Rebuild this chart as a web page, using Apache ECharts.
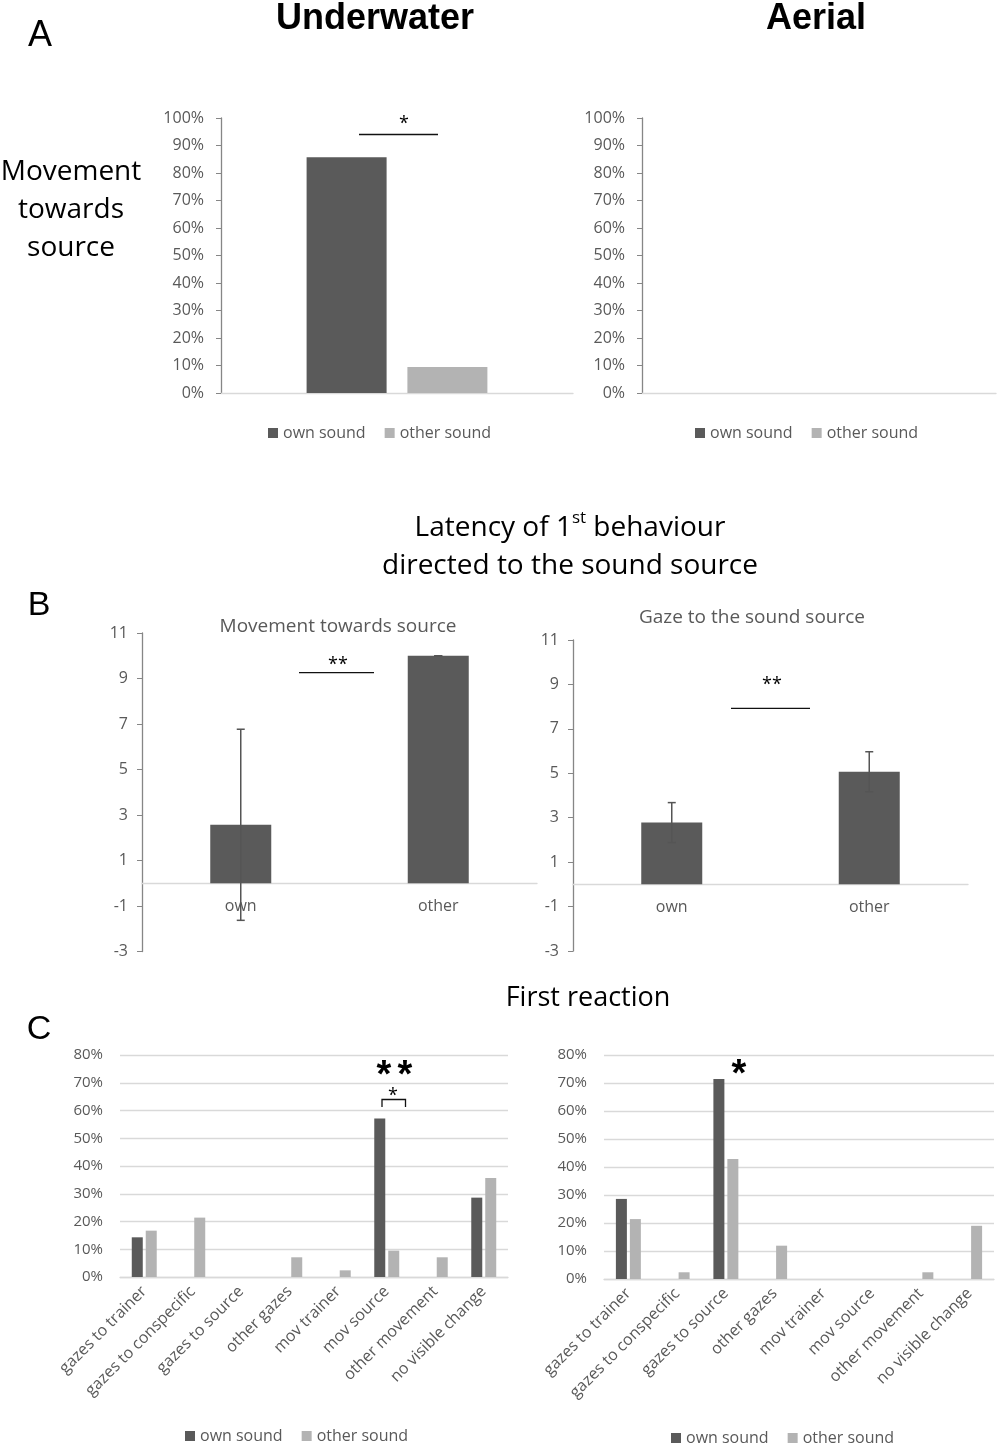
<!DOCTYPE html>
<html><head><meta charset="utf-8">
<script src="https://cdn.jsdelivr.net/npm/echarts@6/dist/echarts.min.js"></script>
<style>html,body{margin:0;padding:0;background:#fff}#c{width:1000px;height:1448px}</style>
</head><body><div id="c"></div>
<script>
// ---------- data ----------
const seriesNames = ['own sound', 'other sound'];
const aCategories = [''];
const aUnderwaterOwn = [0.857];
const aUnderwaterOther = [0.095];
const aAerialOwn = [0];
const aAerialOther = [0];
const percentTicksA = [0, 0.1, 0.2, 0.3, 0.4, 0.5, 0.6, 0.7, 0.8, 0.9, 1];

const latCategories = ['own', 'other'];
const latMovementMean = [2.57, 10.0];
const latMovementErr = [4.2, 0];
const latGazeMean = [2.78, 5.07];
const latGazeErr = [0.9, 0.9];
const latTicks = [-3, -1, 1, 3, 5, 7, 9, 11];

const reactionCategories = ['gazes to trainer', 'gazes to conspecific', 'gazes to source', 'other gazes', 'mov trainer', 'mov source', 'other movement', 'no visible change'];
const reactUnderOwn   = [0.143, 0, 0, 0, 0, 0.571, 0, 0.286];
const reactUnderOther = [0.167, 0.214, 0, 0.071, 0.024, 0.095, 0.071, 0.357];
const reactAerialOwn   = [0.286, 0, 0.714, 0, 0, 0, 0, 0];
const reactAerialOther = [0.214, 0.024, 0.429, 0.119, 0, 0, 0.024, 0.190];

// ---------- style ----------
const OWN = '#5a5a5a', OTHER = '#b3b3b3', TXT = '#595959', AX = '#868686', LIGHT = '#d9d9d9';
const FONT = 'Open Sans';
const pct = v => Math.round(v * 100) + '%';

const chart = echarts.init(document.getElementById('c'), null, {renderer: 'canvas'});

const grids = [
  {left: 221, top: 118, width: 352, height: 275},
  {left: 642, top: 118, width: 354, height: 275},
  {left: 142, top: 633, width: 395, height: 318.5},
  {left: 573, top: 640, width: 395, height: 311},
  {left: 120, top: 1055, width: 388, height: 222},
  {left: 604, top: 1055, width: 390, height: 224}
];
const latMin = latTicks[0], latMax = latTicks[latTicks.length - 1];
// shift the category axis up to the value 0 of the latency scale
const zeroOffset = gi => -grids[gi].height * (0 - latMin) / (latMax - latMin);

function xA(i, cats, extra) {
  return Object.assign({
    type: 'category', gridIndex: i, data: cats,
    axisLine: {onZero: false, lineStyle: {color: LIGHT, width: 1.3}},
    axisTick: {show: false},
    axisLabel: {show: false}
  }, extra || {});
}
function yPctA(i) {
  return {
    type: 'value', gridIndex: i, min: 0, max: 1, interval: 0.1,
    axisLine: {show: true, onZero: false, lineStyle: {color: AX, width: 1.3}},
    axisTick: {show: true, length: 5, lineStyle: {color: AX}},
    splitLine: {show: false},
    axisLabel: {color: TXT, fontSize: 16, fontFamily: FONT, margin: 17, formatter: pct,
      customValues: percentTicksA}
  };
}
function yLat(i) {
  return {
    type: 'value', gridIndex: i, min: latMin, max: latMax,
    axisLine: {show: true, onZero: false, lineStyle: {color: AX, width: 1.3}},
    axisTick: {show: true, length: 5, customValues: latTicks, lineStyle: {color: AX}},
    splitLine: {show: false},
    axisLabel: {color: TXT, fontSize: 16, fontFamily: FONT, margin: 14, customValues: latTicks}
  };
}
function yPctC(i) {
  return {
    type: 'value', gridIndex: i, min: 0, max: 0.8, interval: 0.1,
    axisLine: {show: false}, axisTick: {show: false},
    splitLine: {show: true, lineStyle: {color: LIGHT, width: 1.3}},
    axisLabel: {color: TXT, fontSize: 15, fontFamily: FONT, margin: 17, formatter: pct}
  };
}

function bar(name, gi, data, color, width, gap) {
  return {type: 'bar', name, xAxisIndex: gi, yAxisIndex: gi, data,
    barWidth: width, barGap: gap, itemStyle: {color}, silent: true};
}
function errBars(gi, means, errs) {
  return {
    type: 'custom', name: 'err' + gi, xAxisIndex: gi, yAxisIndex: gi, z: 10, silent: true,
    data: means.map((m, i) => [i, m - errs[i], m + errs[i]]),
    renderItem: (params, api) => {
      const x = api.value(0);
      const lo = api.coord([x, api.value(1)]);
      const hi = api.coord([x, api.value(2)]);
      const w = 4, st = {stroke: '#555', lineWidth: 1.5};
      return {type: 'group', children: [
        {type: 'line', shape: {x1: lo[0], y1: lo[1], x2: hi[0], y2: hi[1]}, style: st},
        {type: 'line', shape: {x1: hi[0] - w, y1: hi[1], x2: hi[0] + w, y2: hi[1]}, style: st},
        {type: 'line', shape: {x1: lo[0] - w, y1: lo[1], x2: lo[0] + w, y2: lo[1]}, style: st}
      ]};
    }
  };
}

const latXLabel = {show: true, color: TXT, fontSize: 16, fontFamily: FONT, margin: 15};
const cXLabel = {show: true, color: TXT, fontSize: 16, fontFamily: FONT, rotate: 45, interval: 0, margin: 12};

function legendAt(left, top) {
  return {left, top, padding: 0, data: seriesNames, icon: 'rect', itemWidth: 10, itemHeight: 10, itemGap: 19,
    selectedMode: false, textStyle: {color: TXT, fontSize: 16, fontFamily: FONT}};
}

function txt(text, x, y, size, opts) {
  return {type: 'text', x, y, silent: true, style: Object.assign({
    text, fill: '#000', font: `${size}px "${FONT}"`, textAlign: 'center', textVerticalAlign: 'middle'
  }, opts || {})};
}
function hline(x1, x2, y) {
  return {type: 'line', silent: true, shape: {x1, y1: y, x2, y2: y}, style: {stroke: '#111', lineWidth: 1.3}};
}

const option = {
  animation: false,
  textStyle: {fontFamily: FONT},
  grid: grids,
  xAxis: [
    xA(0, aCategories), xA(1, aCategories),
    xA(2, latCategories, {axisLabel: latXLabel, offset: zeroOffset(2)}),
    xA(3, latCategories, {axisLabel: latXLabel, offset: zeroOffset(3)}),
    xA(4, reactionCategories, {axisLabel: cXLabel}),
    xA(5, reactionCategories, {axisLabel: cXLabel})
  ],
  yAxis: [yPctA(0), yPctA(1), yLat(2), yLat(3), yPctC(4), yPctC(5)],
  legend: [legendAt(268, 425), legendAt(695, 425), legendAt(185, 1428), legendAt(671, 1430)],
  series: [
    bar(seriesNames[0], 0, aUnderwaterOwn, OWN, 80, '26%'),
    bar(seriesNames[1], 0, aUnderwaterOther, OTHER, 80, '26%'),
    bar(seriesNames[0], 1, aAerialOwn, OWN, 80, '26%'),
    bar(seriesNames[1], 1, aAerialOther, OTHER, 80, '26%'),
    bar('latency movement', 2, latMovementMean, OWN, 61, '0%'),
    errBars(2, latMovementMean, latMovementErr),
    bar('latency gaze', 3, latGazeMean, OWN, 61, '0%'),
    errBars(3, latGazeMean, latGazeErr),
    bar(seriesNames[0], 4, reactUnderOwn, OWN, 11, '27%'),
    bar(seriesNames[1], 4, reactUnderOther, OTHER, 11, '27%'),
    bar(seriesNames[0], 5, reactAerialOwn, OWN, 11, '27%'),
    bar(seriesNames[1], 5, reactAerialOther, OTHER, 11, '27%')
  ],
  graphic: [
    txt('A', 40, 36, 36, {font: '36px "Liberation Sans"'}),
    txt('B', 39, 606, 34, {font: '34px "Liberation Sans"'}),
    txt('C', 39, 1030, 34, {font: '34px "Liberation Sans"'}),
    txt('Underwater', 375, 19, 36, {font: 'bold 36px "Liberation Sans"'}),
    txt('Aerial', 816, 19, 36, {font: 'bold 36px "Liberation Sans"'}),
    txt('Movement\ntowards\nsource', 71, 210, 28, {lineHeight: 38}),
    hline(359, 438, 134.5),
    txt('*', 404, 124, 18),
    {type: 'text', x: 570, y: 528, silent: true, style: {
      text: '{a|Latency of 1}{s|st}{a| behaviour}', textAlign: 'center', textVerticalAlign: 'middle',
      rich: {a: {fontSize: 28, fontFamily: FONT, fill: '#000', lineHeight: 36},
             s: {fontSize: 17, fontFamily: FONT, fill: '#000', verticalAlign: 'top', lineHeight: 20}}
    }},
    txt('directed to the sound source', 570, 566, 28),
    txt('Movement towards source', 338, 627, 19, {fill: TXT}),
    txt('Gaze to the sound source', 752, 618, 19, {fill: TXT}),
    hline(299, 374, 672.7),
    txt('**', 338, 665, 18),
    hline(731, 810, 708.3),
    txt('**', 772, 685, 18),
    txt('First reaction', 588, 998, 27),
    txt('*', 384, 1077, 38, {font: 'bold 38px "Liberation Sans"'}),
    txt('*', 405, 1077, 38, {font: 'bold 38px "Liberation Sans"'}),
    txt('*', 393, 1096, 18),
    {type: 'polyline', silent: true, shape: {points: [[382, 1107], [382, 1099.5], [405.5, 1099.5], [405.5, 1107]]},
      style: {stroke: '#111', lineWidth: 1.3, fill: null}},
    txt('*', 739, 1076, 38, {font: 'bold 38px "Liberation Sans"'})
  ]
};
chart.setOption(option);
</script>
</body></html>
